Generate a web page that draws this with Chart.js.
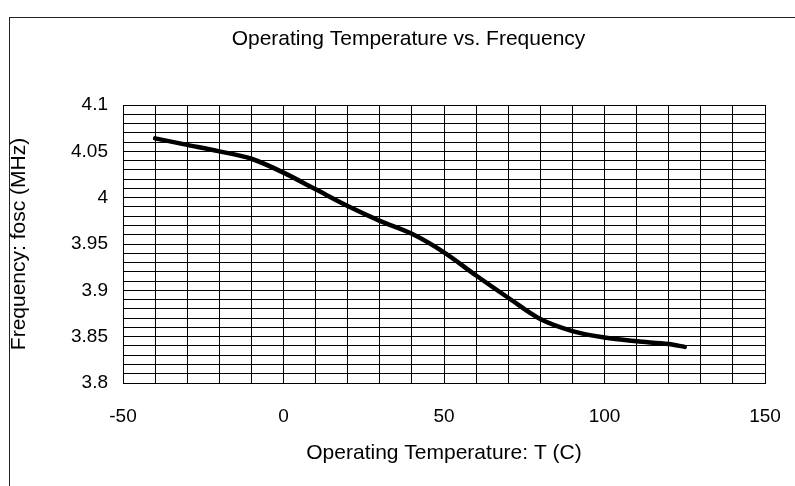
<!DOCTYPE html>
<html>
<head>
<meta charset="utf-8">
<script src="https://cdn.jsdelivr.net/npm/chart.js@4.4.1/dist/chart.umd.min.js"></script>
<style>
  html, body { margin: 0; padding: 0; background: #fff; overflow: hidden; }
  #wrap { width: 817px; height: 486px; }
</style>
</head>
<body>
<div id="wrap"><canvas id="chart" width="817" height="486"></canvas></div>
<script>
// values
const temps = [-40, -30, -20, -10, 0, 10, 20, 30, 40, 50, 60, 70, 80, 90, 100, 110, 120, 125];
const freqs = [4.064, 4.057, 4.050, 4.042, 4.027, 4.009, 3.991, 3.975, 3.961, 3.941, 3.916, 3.892, 3.869, 3.856, 3.849, 3.845, 3.842, 3.839];

const chartTitle = 'Operating Temperature vs. Frequency';
const xTitle = 'Operating Temperature: T (C)';
const yTitle = 'Frequency: fosc (MHz)';

const fontFamily = "'Liberation Sans', Arial, sans-serif";

// outer frame round the whole chart, like the Excel chart border
const framePlugin = {
  id: 'frame',
  beforeDraw(chart) {
    const ctx = chart.ctx;
    ctx.save();
    ctx.strokeStyle = '#222';
    ctx.lineWidth = 1;
    ctx.strokeRect(9.5, 17.5, 798, 600);
    ctx.restore();
  }
};

const points = temps.map((t, i) => ({ x: t, y: freqs[i] }));

const ctx = document.getElementById('chart').getContext('2d');
new Chart(ctx, {
  type: 'line',
  data: {
    datasets: [{
      data: points,
      borderColor: '#000',
      borderWidth: 4.5,
      borderCapStyle: 'round',
      borderJoinStyle: 'round',
      pointRadius: 0,
      fill: false,
      cubicInterpolationMode: 'monotone'
    }]
  },
  options: {
    responsive: false,
    animation: false,
    layout: { padding: 0 },
    plugins: {
      legend: { display: false },
      tooltip: { enabled: false },
      title: {
        display: true,
        text: chartTitle,
        color: '#000',
        font: { family: fontFamily, size: 21, weight: 'normal' },
        padding: { top: 27, bottom: 52.8 }
      }
    },
    scales: {
      x: {
        type: 'linear',
        min: -50,
        max: 150,
        border: { color: '#000', width: 1 },
        grid: { color: '#000', lineWidth: 1, drawTicks: false },
        ticks: {
          stepSize: 10,
          autoSkip: false,
          maxRotation: 0,
          padding: 22,
          color: '#000',
          font: { family: fontFamily, size: 19 },
          callback: v => (Math.round(v) % 50 === 0 ? String(Math.round(v)) : '')
        },
        title: {
          display: true,
          text: xTitle,
          color: '#000',
          font: { family: fontFamily, size: 21 },
          padding: { top: 0, bottom: 20 }
        },
        afterFit(scale) {
          scale.height = 103;
          scale.paddingRight = 52;
        }
      },
      y: {
        min: 3.8,
        max: 4.1,
        border: { color: '#000', width: 1 },
        grid: { color: '#000', lineWidth: 1, drawTicks: false },
        ticks: {
          stepSize: 0.01,
          autoSkip: false,
          padding: 15,
          color: '#000',
          font: { family: fontFamily, size: 19 },
          callback: v => {
            const hundredths = Math.round(v * 100);
            return hundredths % 5 === 0 ? String(parseFloat((hundredths / 100).toFixed(2))) : '';
          }
        },
        title: {
          display: true,
          text: yTitle,
          color: '#000',
          font: { family: fontFamily, size: 21 },
          padding: { top: 7, bottom: 0 }
        },
        afterFit(scale) {
          scale.width = 123;
        }
      }
    }
  },
  plugins: [framePlugin]
});
</script>
</body>
</html>
